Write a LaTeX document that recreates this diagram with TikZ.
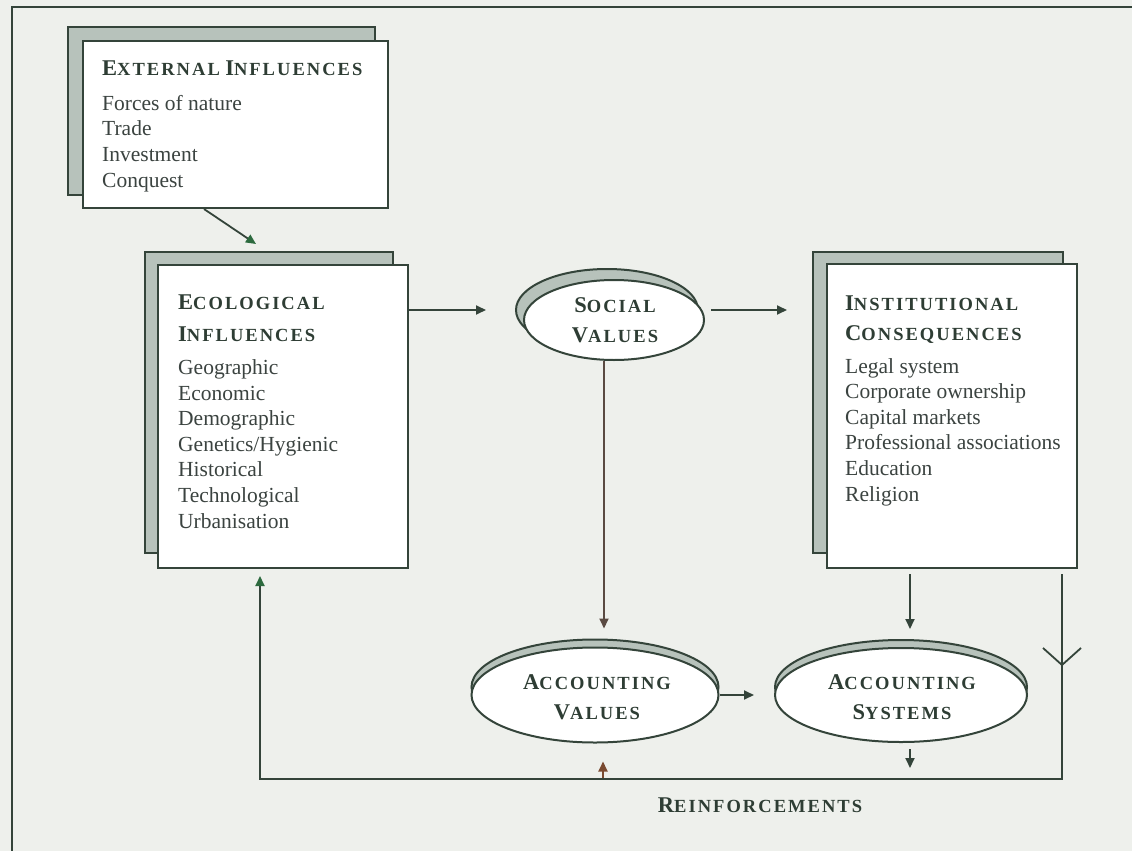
\documentclass[tikz,border=0pt]{standalone}
\usepackage{fontspec}
\setmainfont{Liberation Serif}
\newfontfamily\scfont{Liberation Serif}[LetterSpace=11]
\usetikzlibrary{arrows.meta,shapes.geometric,calc}
\definecolor{bgcol}{HTML}{EEF0EC}
\definecolor{linecol}{HTML}{34443A}
\definecolor{shadecol}{HTML}{B7C2BB}
\definecolor{headcol}{HTML}{2E3D34}
\definecolor{bodycol}{HTML}{3B4340}
\definecolor{tipgreen}{HTML}{2C6A3E}
\definecolor{tipbrown}{HTML}{7A4A30}
\definecolor{stembrown}{HTML}{5A4A42}
% small-caps heading: large initial, letter-spaced capitals
\newcommand\hcap[2]{{\fontsize{22.5}{24}\selectfont #1}{\scfont\fontsize{18.5}{20}\selectfont #2}}
\tikzset{
  frontbox/.style={draw=linecol, line width=2pt, fill=white, inner sep=0pt},
  backbox/.style={draw=linecol, line width=2pt, fill=shadecol, inner sep=0pt},
  frontoval/.style={ellipse, draw=linecol, line width=2pt, fill=white, inner sep=0pt},
  backoval/.style={ellipse, draw=linecol, line width=2pt, fill=shadecol, inner sep=0pt},
  conn/.style={draw=linecol, line width=1.8pt},
  arr/.style={conn, -{Triangle[length=10pt,width=9pt]}},
  arrgreen/.style={conn, -{Triangle[length=10pt,width=9pt,color=tipgreen,fill=tipgreen]}},
  arrbrown/.style={draw=tipbrown, line width=1.8pt, -{Triangle[length=10pt,width=9pt]}},
  stem/.style={draw=stembrown, line width=1.8pt, -{Triangle[length=10pt,width=9pt]}},
  bodytext/.style={text=bodycol, align=left, inner sep=0pt, font=\fontsize{21.5}{25.6}\selectfont},
  headtext/.style={text=headcol, align=center, inner sep=0pt, font=\bfseries\fontsize{21.5}{30}\selectfont},
}
\begin{document}
\begin{tikzpicture}[x=1pt,y=-1pt]
\useasboundingbox (0,0) rectangle (1132,851);
\fill[bgcol] (0,0) rectangle (1132,851);
\draw[linecol, line width=2.2pt] (12,851) -- (12,7) -- (1132,7);

% external influences (text node anchored at its last baseline)
\node[backbox, minimum width=307pt, minimum height=168pt] (extB) at (221.5,111) {};
\node[frontbox, minimum width=305pt, minimum height=167pt] (extF) at (235.5,124.5) {};
\node[bodytext, anchor=base west] (extT) at (102,187) {%
  {\bfseries\color{headcol}\hcap{E}{XTERNAL} \hcap{I}{NFLUENCES}}\\[9.4pt]
  Forces of nature\\ Trade\\ Investment\\ Conquest};

% ecological influences
\node[backbox, minimum width=248pt, minimum height=301pt] (ecoB) at (269,402.5) {};
\node[frontbox, minimum width=250pt, minimum height=303pt] (ecoF) at (283,416.5) {};
\node[bodytext, anchor=base west] (ecoT) at (178,528) {%
  {\bfseries\color{headcol}\hcap{E}{COLOGICAL}}\\[6.4pt]
  {\bfseries\color{headcol}\hcap{I}{NFLUENCES}}\\[7.4pt]
  Geographic\\ Economic\\ Demographic\\ Genetics/Hygienic\\ Historical\\ Technological\\ Urbanisation};

% institutional consequences
\node[backbox, minimum width=250pt, minimum height=301pt] (instB) at (938,402.5) {};
\node[frontbox, minimum width=250pt, minimum height=304pt] (instF) at (952,416) {};
\node[bodytext, anchor=base west] (instT) at (845,501) {%
  {\bfseries\color{headcol}\hcap{I}{NSTITUTIONAL}}\\[4.4pt]
  {\bfseries\color{headcol}\hcap{C}{ONSEQUENCES}}\\[7.4pt]
  Legal system\\ Corporate ownership\\ Capital markets\\ Professional associations\\ Education\\ Religion};

% value and system ovals
\node[backoval, minimum width=182pt, minimum height=82pt] (socB) at (607,310) {};
\node[frontoval, minimum width=180pt, minimum height=80pt] (socF) at (614,320) {};
\node[headtext] (socT) at (615,320) {\hcap{S}{OCIAL}\\\hcap{V}{ALUES}};

\node[backoval, minimum width=247pt, minimum height=95pt] (accVB) at (595,687) {};
\node[frontoval, minimum width=247pt, minimum height=95pt] (accVF) at (595,695) {};
\node[headtext] (accVT) at (597,697) {\hcap{A}{CCOUNTING}\\\hcap{V}{ALUES}};

\node[backoval, minimum width=252pt, minimum height=94pt] (accSB) at (901,687) {};
\node[frontoval, minimum width=252pt, minimum height=94pt] (accSF) at (901,695) {};
\node[headtext] (accST) at (902,697) {\hcap{A}{CCOUNTING}\\\hcap{S}{YSTEMS}};

\node[text=headcol, inner sep=0pt, font=\bfseries, anchor=base] (reinf) at (760,812) {\hcap{R}{EINFORCEMENTS}};

% connectors
\coordinate (lb) at (260,779);
\coordinate (rb) at (1062,779);
\coordinate (vtip) at (1062,665);

\draw[arrgreen] ([xshift=122pt]extF.south west) -- ([xshift=112pt,yshift=7pt]ecoB.north west);
\draw[arr, shorten >=29pt] (ecoF.east |- socB.west) -- (socB.west);
\draw[arr, shorten <=6pt, shorten >=25pt] (socF.east |- socB.east) -- (instB.west |- socB.east);
\draw[stem] ([xshift=-10pt]socF.south) -- ([xshift=9pt,yshift=10pt]accVB.north);
\draw[arr, shorten >=20pt] (accVF.east) -- (accSF.west);
\draw[arr] ([xshift=-42pt,yshift=-5pt]instF.south) -- ([xshift=9pt,yshift=10pt]accSB.north);
\draw[arr, shorten <=6pt, shorten >=11pt] ([xshift=9pt]accSF.south) -- ([xshift=9pt]accSF.south |- lb);
\draw[arrbrown, shorten >=18pt] ([xshift=8pt]accVF.south |- lb) -- ([xshift=8pt]accVF.south);
\draw[arrgreen, shorten >=7pt] ([yshift=-5pt]instF.south -| rb) -- (rb) -- (lb) -- (ecoF.south -| lb);
\draw[conn] ($(vtip)+(-19,-17)$) -- (vtip) -- ($(vtip)+(19,-17)$);
\end{tikzpicture}
\end{document}
